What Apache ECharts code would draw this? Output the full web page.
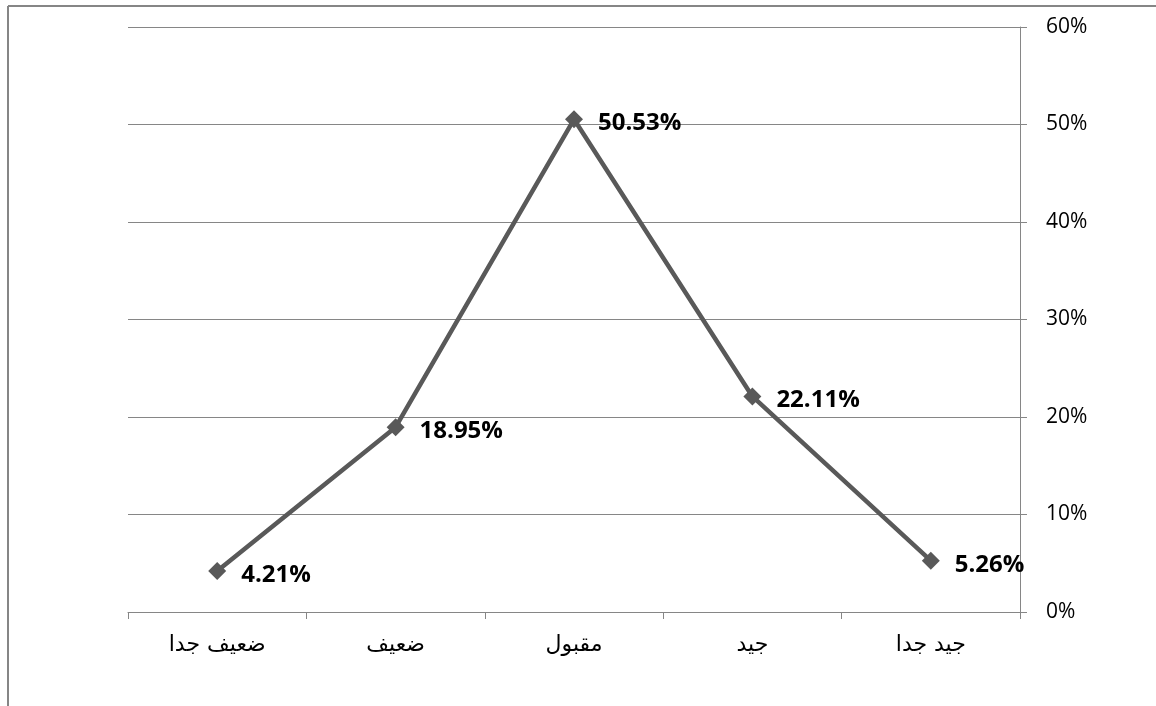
<!DOCTYPE html>
<html>
<head>
<meta charset="utf-8">
<style>
  html, body { margin: 0; padding: 0; background: #ffffff; }
  #chart { width: 1156px; height: 706px; }
</style>
<script src="https://cdn.jsdelivr.net/npm/echarts@6/dist/echarts.min.js"></script>
</head>
<body>
<div id="chart"></div>
<script>
// Rating categories and their share of responses (%)
const categories = ['ضعيف جدا', 'ضعيف', 'مقبول', 'جيد', 'جيد جدا'];
const shares = [4.21, 18.95, 50.53, 22.11, 5.26];
const yTicks = [0, 10, 20, 30, 40, 50, 60];

const chart = echarts.init(document.getElementById('chart'), null, { renderer: 'canvas' });

const gray = '#868686';
const lineColor = '#595959';

chart.setOption({
  backgroundColor: '#ffffff',
  animation: false,
  grid: { left: 128, right: 136, top: 27, bottom: 94 },
  graphic: [
    { type: 'line', shape: { x1: 8, y1: 6, x2: 1156, y2: 6 }, style: { stroke: gray, lineWidth: 2 } },
    { type: 'line', shape: { x1: 8, y1: 6, x2: 8, y2: 706 }, style: { stroke: gray, lineWidth: 2 } }
  ],
  xAxis: {
    type: 'category',
    data: categories,
    boundaryGap: true,
    axisLine: { show: true, lineStyle: { color: gray, width: 1 } },
    axisTick: { show: true, alignWithLabel: false, length: 7, lineStyle: { color: gray } },
    axisLabel: {
      color: '#000000',
      fontFamily: 'DejaVu Sans',
      fontSize: 22,
      margin: 22
    },
    splitLine: { show: false }
  },
  yAxis: {
    type: 'value',
    position: 'right',
    min: yTicks[0],
    max: yTicks[yTicks.length - 1],
    interval: 10,
    axisLine: { show: true, lineStyle: { color: gray, width: 1 } },
    axisTick: { show: true, length: 7, lineStyle: { color: gray } },
    axisLabel: {
      color: '#000000',
      fontFamily: 'Open Sans',
      fontSize: 21,
      margin: 26,
      formatter: v => v + '%'
    },
    splitLine: { show: true, lineStyle: { color: gray, width: 1 } }
  },
  series: [{
    type: 'line',
    data: shares,
    symbol: 'diamond',
    symbolSize: 18,
    lineStyle: { color: lineColor, width: 4.5 },
    itemStyle: { color: lineColor },
    label: {
      show: true,
      position: 'right',
      distance: 15,
      color: '#000000',
      fontFamily: 'Open Sans',
      fontWeight: 'bold',
      fontSize: 24,
      offset: [0, 4],
      formatter: p => p.value.toFixed(2) + '%'
    }
  }]
});
</script>
</body>
</html>
